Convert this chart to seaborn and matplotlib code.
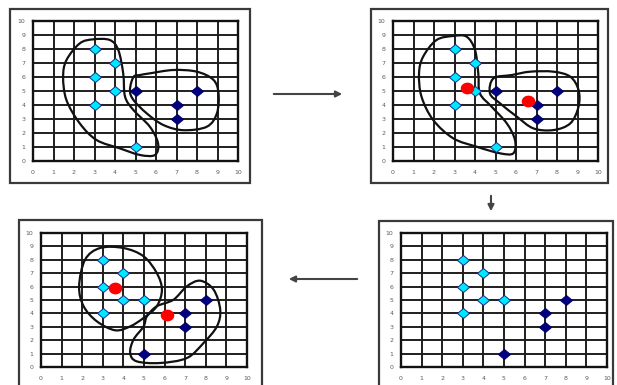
import numpy as np
import pandas as pd
import matplotlib
matplotlib.use("Agg")
import matplotlib.pyplot as plt
from matplotlib.path import Path
from matplotlib.patches import Rectangle, PathPatch, FancyArrowPatch
import seaborn as sns

# --- data: k-means steps ---
ticks = list(range(0, 11))

# step 1 / 2 : initial assignment
light_x_1 = [3, 4, 3, 4, 3, 5]
light_y_1 = [8, 7, 6, 5, 4, 1]
dark_x_1 = [5, 7, 8, 7]
dark_y_1 = [5, 4, 5, 3]
cent_x_2 = [3.6, 6.6]
cent_y_2 = [5.2, 4.3]

# step 3 / 4 : reassignment
light_x_3 = [3, 4, 3, 4, 5, 3]
light_y_3 = [8, 7, 6, 5, 5, 4]
dark_x_3 = [8, 7, 7, 5]
dark_y_3 = [5, 4, 3, 1]
cent_x_4 = [3.6, 6.1]
cent_y_4 = [5.9, 3.9]

# hand drawn cluster outlines (points on the curve, data units)
blob_a1 = [(2.94, 8.69), (2.28, 8.4), (1.63, 7.2), (1.47, 6.0), (1.63, 4.36), (2.28, 2.69),
           (3.1, 1.5), (4.24, 0.9), (5.22, 0.43), (5.95, 0.43), (6.1, 1.26), (5.7, 2.45),
           (4.9, 3.64), (4.49, 4.6), (4.4, 6.26), (4.16, 7.93), (3.75, 8.64)]
blob_b1 = [(4.9, 6.0), (4.73, 5.07), (4.9, 4.36), (5.55, 3.4), (6.36, 2.57), (7.34, 2.2),
           (8.48, 2.45), (8.97, 3.4), (9.05, 4.83), (8.8, 5.8), (7.99, 6.38), (6.85, 6.5),
           (5.7, 6.26), (5.22, 6.14)]
blob_a2 = [(2.94, 8.93), (2.12, 8.64), (1.47, 7.45), (1.27, 6.26), (1.39, 4.6), (1.96, 2.93),
           (2.94, 1.62), (4.08, 1.02), (5.22, 0.55), (5.87, 0.55), (5.95, 1.5), (5.55, 2.69),
           (4.81, 3.88), (4.24, 4.83), (4.16, 6.26), (4.0, 7.93), (3.59, 8.88)]
blob_b2 = [(4.9, 5.9), (4.73, 4.83), (5.22, 4.12), (6.04, 3.17), (6.85, 2.33), (7.83, 2.21),
           (8.65, 2.69), (9.05, 3.88), (9.05, 5.07), (8.65, 6.02), (7.83, 6.38), (6.69, 6.38),
           (5.79, 6.14)]
blob_a3 = [(2.87, 8.88), (2.14, 8.01), (1.85, 6.02), (2.07, 4.53), (2.71, 3.41), (3.6, 2.74),
           (4.33, 3.03), (4.98, 3.66), (5.62, 4.53), (5.87, 5.77), (5.62, 7.01), (4.98, 8.26),
           (4.0, 8.88)]
blob_b3 = [(5.14, 3.78), (4.98, 3.03), (4.49, 2.04), (4.33, 1.04), (4.65, 0.42), (5.79, 0.3),
           (7.08, 0.67), (7.89, 1.79), (8.54, 3.03), (8.7, 4.28), (8.38, 5.77), (7.73, 6.44),
           (7.08, 6.02), (6.43, 5.02), (5.62, 4.53)]

W, H = 617, 385
sns.set_style("white")
plt.rcParams["font.family"] = ["DejaVu Sans"]

fig = plt.figure(figsize=(W / 100, H / 100), dpi=100)


def fbox(x0, y0, x1, y1):
    return [x0 / W, 1 - y1 / H, (x1 - x0) / W, (y1 - y0) / H]


diamond = Path([(0, 1), (1.2, 0), (0, -1), (-1.2, 0), (0, 1)],
               [Path.MOVETO, Path.LINETO, Path.LINETO, Path.LINETO, Path.CLOSEPOLY])
t = np.linspace(0, 2 * np.pi, 40)
oval = Path(np.column_stack([1.15 * np.cos(t), np.sin(t)]))


def smooth_closed(pts):
    # closed catmull-rom outline as cubic bezier segments
    p = np.array(pts)
    n = len(p)
    verts = [p[0]]
    codes = [Path.MOVETO]
    for i in range(n):
        p0, p1, p2, p3 = p[i - 1], p[i], p[(i + 1) % n], p[(i + 2) % n]
        verts += [p1 + (p2 - p0) / 6, p2 - (p3 - p1) / 6, p2]
        codes += [Path.CURVE4] * 3
    return Path(verts, codes)


def panel(box, frame, lx, ly, dx, dy, cx=None, cy=None, blobs=()):
    fig.patches.append(Rectangle((frame[0] / W, 1 - frame[3] / H),
                                 (frame[2] - frame[0]) / W, (frame[3] - frame[1]) / H,
                                 transform=fig.transFigure, fill=False,
                                 edgecolor="#3a3a3a", linewidth=1.6, zorder=0))
    ax = fig.add_axes(fbox(*box))
    sns.scatterplot(x=lx, y=ly, marker=diamond, s=75, color="#00e8ff",
                    edgecolor="#1a2a8a", linewidth=0.7, ax=ax, zorder=5)
    sns.scatterplot(x=dx, y=dy, marker=diamond, s=75, color="#000080",
                    edgecolor="#000060", linewidth=0.7, ax=ax, zorder=5)
    if cx is not None:
        sns.scatterplot(x=cx, y=cy, marker=oval, s=95, color="#ff0000",
                        edgecolor="#ff0000", linewidth=0, ax=ax, zorder=6)
    for b in blobs:
        ax.add_patch(PathPatch(smooth_closed(b), fill=False, edgecolor="#111111",
                               linewidth=1.6, zorder=4))
    ax.set_xlim(0, 10)
    ax.set_ylim(0, 10)
    ax.set_xticks(ticks)
    ax.set_yticks(ticks)
    ax.set_xlabel("")
    ax.set_ylabel("")
    ax.grid(True, color="#1e1e1e", linewidth=1.4)
    ax.set_axisbelow(True)
    for s in ax.spines.values():
        s.set_color("#111111")
        s.set_linewidth(1.7)
    ax.tick_params(axis="both", length=2.5, width=1, color="#222222",
                   labelsize=4.5, labelcolor="#5a5a6a", pad=4)
    ax.tick_params(axis="y", pad=3)
    return ax


panel((33, 21, 238, 161), (10, 9, 250, 183), light_x_1, light_y_1, dark_x_1, dark_y_1,
      blobs=(blob_a1, blob_b1))
panel((393, 21, 598, 161), (371, 9, 608, 183), light_x_1, light_y_1, dark_x_1, dark_y_1,
      cent_x_2, cent_y_2, blobs=(blob_a2, blob_b2))
panel((41, 233, 247, 367), (19, 220, 262, 392), light_x_3, light_y_3, dark_x_3, dark_y_3,
      cent_x_4, cent_y_4, blobs=(blob_a3, blob_b3))
panel((401, 233, 607, 367), (379, 221, 613, 392), light_x_3, light_y_3, dark_x_3, dark_y_3)

# arrows between steps
for (x0, y0), (x1, y1) in [((271, 94), (345, 94)), ((491, 193), (491, 214)),
                           ((360, 279), (286, 279))]:
    fig.patches.append(FancyArrowPatch((x0 / W, 1 - y0 / H), (x1 / W, 1 - y1 / H),
                                       transform=fig.transFigure, arrowstyle="-|>",
                                       mutation_scale=9, color="#444444", linewidth=1.5))

fig.savefig("out.png", dpi=100)
